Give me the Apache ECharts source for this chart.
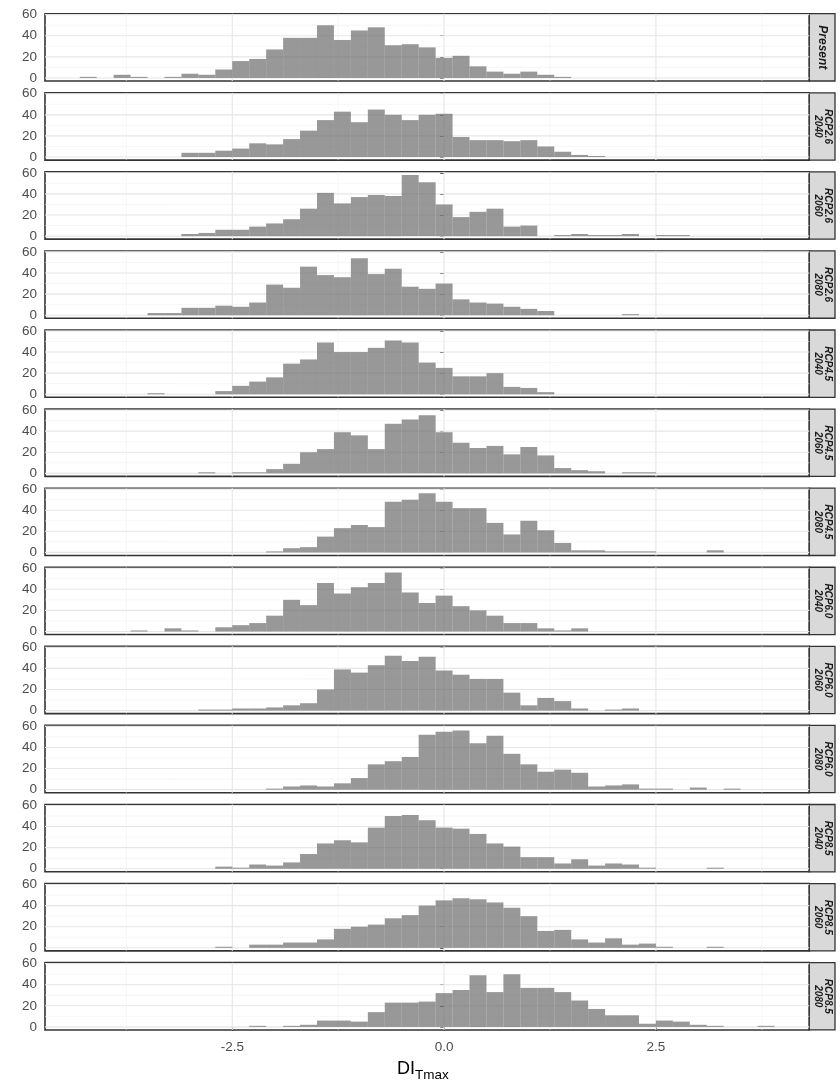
<!DOCTYPE html>
<html>
<head>
<meta charset="utf-8">
<script src="https://cdn.jsdelivr.net/npm/echarts@6/dist/echarts.min.js"></script>
<style>
html,body{margin:0;padding:0;background:#fff;}
#chart{width:840px;height:1081px;}
</style>
</head>
<body>
<div id="chart"></div>
<script>
// ---------- DATA ----------
const PANEL_LABELS = ['Present', 'RCP2.6\n2040', 'RCP2.6\n2060', 'RCP2.6\n2080',
  'RCP4.5\n2040', 'RCP4.5\n2060', 'RCP4.5\n2080',
  'RCP6.0\n2040', 'RCP6.0\n2060', 'RCP6.0\n2080',
  'RCP8.5\n2040', 'RCP8.5\n2060', 'RCP8.5\n2080'];

const BIN_WIDTH = 0.2;
const BIN_CENTERS = [-4.2, -4.0, -3.8, -3.6, -3.4, -3.2, -3.0, -2.8, -2.6, -2.4,
  -2.2, -2.0, -1.8, -1.6, -1.4, -1.2, -1.0, -0.8, -0.6, -0.4,
  -0.2, 0.0, 0.2, 0.4, 0.6, 0.8, 1.0, 1.2, 1.4, 1.6,
  1.8, 2.0, 2.2, 2.4, 2.6, 2.8, 3.0, 3.2, 3.4, 3.6, 3.8];

const present     = [1,0,3,1,0,1,4,3,8,16,18,27,38,38,50,36,45,48,31,32,29,19,21,11,6,4,6,3,1,0,0,0,0,0,0,0,0,0,0,0,0];
const rcp26_2040  = [0,0,0,0,0,0,4,4,6,8,13,12,17,25,35,43,33,45,40,35,40,41,19,16,16,15,16,10,5,2,1,0,0,0,0,0,0,0,0,0,0];
const rcp26_2060  = [0,0,0,0,0,0,2,3,6,6,9,12,16,26,41,31,37,39,38,58,51,30,18,23,26,9,10,0,1,2,1,1,2,0,1,1,0,0,0,0,0];
const rcp26_2080  = [0,0,0,0,2,2,7,7,9,8,12,29,26,46,38,36,54,39,44,27,25,30,15,12,11,8,6,4,0,0,0,0,1,0,0,0,0,0,0,0,0];
const rcp45_2040  = [0,0,0,0,1,0,0,0,3,8,12,16,29,33,49,40,40,44,51,49,30,25,17,17,20,7,6,2,0,0,0,0,0,0,0,0,0,0,0,0,0];
const rcp45_2060  = [0,0,0,0,0,0,0,1,0,1,1,4,9,20,23,39,36,23,47,51,55,39,29,24,26,18,25,17,5,3,2,0,1,1,0,0,0,0,0,0,0];
const rcp45_2080  = [0,0,0,0,0,0,0,0,0,0,0,1,4,5,15,23,26,24,48,50,56,48,42,42,28,17,30,21,9,2,2,1,1,1,0,0,0,2,0,0,0];
const rcp60_2040  = [0,0,0,1,0,3,1,0,4,6,8,15,30,25,46,36,42,46,56,37,27,34,24,20,15,8,8,3,1,3,0,0,0,0,0,0,0,0,0,0,0];
const rcp60_2060  = [0,0,0,0,0,0,0,1,1,2,2,3,5,7,20,39,36,43,52,47,51,38,34,30,30,17,5,12,9,2,0,1,2,0,0,0,0,0,0,0,0];
const rcp60_2080  = [0,0,0,0,0,0,0,0,0,0,0,1,3,4,3,6,11,24,27,31,52,55,56,44,51,34,24,17,19,16,3,4,5,1,1,0,2,0,1,0,0];
const rcp85_2040  = [0,0,0,0,0,0,0,0,2,1,4,3,6,14,24,27,25,39,50,51,46,39,38,33,24,21,11,11,5,9,3,5,4,1,0,0,0,1,0,0,0];
const rcp85_2060  = [0,0,0,0,0,0,0,0,1,0,3,3,5,5,8,18,20,22,28,31,40,45,47,46,43,38,30,16,17,8,5,9,3,4,1,0,0,1,0,0,0];
const rcp85_2080  = [0,0,0,0,0,0,0,0,0,0,1,0,1,2,6,6,5,14,23,23,24,32,35,49,33,50,37,37,33,25,17,11,11,3,6,5,2,1,0,0,1];

const PANEL_COUNTS = [present, rcp26_2040, rcp26_2060, rcp26_2080,
  rcp45_2040, rcp45_2060, rcp45_2080,
  rcp60_2040, rcp60_2060, rcp60_2080,
  rcp85_2040, rcp85_2060, rcp85_2080];

const X_TICKS = [-2.5, 0, 2.5];
const X_MINOR = [-3.75, -1.25, 1.25, 3.75];
const Y_TICKS = [0, 20, 40, 60];
const Y_MINOR = [10, 30, 50];
const X_RANGE = [-4.71, 4.31];
const Y_RANGE = [-2.9, 60.9];

// ---------- LAYOUT / STYLE ----------
const PANEL_TOP0 = 13.7, PANEL_STEP = 79.08, PANEL_H = 67.3;
const PANEL_L = 45, PANEL_W = 764.3, STRIP_W = 25.7;
const FONT = "'Liberation Sans', Arial, Helvetica, sans-serif";
const BAR_FILL = 'rgba(102,102,102,0.67)';
const N = PANEL_COUNTS.length;

const chart = echarts.init(document.getElementById('chart'), null, {renderer: 'canvas', width: 840, height: 1081});

function gridLineData() {
  const d = [];
  X_TICKS.forEach(v => d.push([v, 0, 0, 1]));
  X_MINOR.forEach(v => d.push([v, 0, 0, 0]));
  Y_TICKS.forEach(v => d.push([0, v, 1, 1]));
  Y_MINOR.forEach(v => d.push([0, v, 1, 0]));
  return d;
}

function renderGridLine(params, api) {
  const cs = params.coordSys;
  const p = api.coord([api.value(0), api.value(1)]);
  const horiz = api.value(2) === 1;
  const major = api.value(3) === 1;
  const shape = horiz
    ? {x1: cs.x, y1: p[1], x2: cs.x + cs.width, y2: p[1]}
    : {x1: p[0], y1: cs.y, x2: p[0], y2: cs.y + cs.height};
  return {
    type: 'line', shape: shape, silent: true,
    style: {stroke: major ? '#e6e6e6' : '#f0f0f0', lineWidth: major ? 1.1 : 0.6}
  };
}

function renderBar(params, api) {
  const c = api.value(0), n = api.value(1);
  if (!n) return null;
  const p0 = api.coord([c - BIN_WIDTH / 2, n]);
  const p1 = api.coord([c + BIN_WIDTH / 2, 0]);
  return {
    type: 'rect',
    shape: {x: p0[0], y: p0[1], width: p1[0] - p0[0], height: p1[1] - p0[1]},
    style: {fill: BAR_FILL}
  };
}

const grids = [], xAxes = [], yAxes = [], series = [], graphics = [];
for (let i = 0; i < N; i++) {
  const top = PANEL_TOP0 + PANEL_STEP * i;
  const last = i === N - 1;
  grids.push({
    left: PANEL_L, top: top, width: PANEL_W, height: PANEL_H,
    show: true, backgroundColor: '#ffffff', borderColor: '#333333', borderWidth: 1.6
  });
  xAxes.push({
    type: 'value', gridIndex: i, min: X_RANGE[0], max: X_RANGE[1],
    axisLine: {show: false}, splitLine: {show: false},
    axisTick: {show: last, customValues: X_TICKS, length: 4, lineStyle: {color: '#333333', width: 1}},
    axisLabel: {show: last, customValues: X_TICKS, margin: 10, color: '#4d4d4d', fontSize: 13.5, fontFamily: FONT,
      formatter: v => v.toFixed(1)}
  });
  yAxes.push({
    type: 'value', gridIndex: i, min: Y_RANGE[0], max: Y_RANGE[1],
    axisLine: {show: false}, splitLine: {show: false},
    axisTick: {show: true, customValues: Y_TICKS, length: 4, lineStyle: {color: '#333333', width: 1}},
    axisLabel: {show: true, customValues: Y_TICKS, margin: 8, color: '#4d4d4d', fontSize: 13.5, fontFamily: FONT,
      formatter: v => String(Math.round(v))}
  });
  series.push({
    type: 'custom', xAxisIndex: i, yAxisIndex: i, z: 1, silent: true,
    renderItem: renderGridLine, data: gridLineData()
  });
  series.push({
    type: 'custom', xAxisIndex: i, yAxisIndex: i, z: 2,
    renderItem: renderBar,
    data: BIN_CENTERS.map((c, k) => [c, PANEL_COUNTS[i][k]])
  });
  // facet strip
  graphics.push({
    type: 'rect', silent: true,
    shape: {x: PANEL_L + PANEL_W, y: top, width: STRIP_W, height: PANEL_H},
    style: {fill: '#d9d9d9', stroke: '#333333', lineWidth: 1.3}
  });
  const single = PANEL_LABELS[i].indexOf('\n') < 0;
  graphics.push({
    type: 'text', silent: true,
    x: PANEL_L + PANEL_W + STRIP_W / 2 + 0.5, y: top + PANEL_H / 2,
    rotation: -Math.PI / 2,
    style: {
      text: PANEL_LABELS[i], align: 'center', verticalAlign: 'middle',
      fontFamily: FONT, fontWeight: 'bold', fontStyle: 'italic',
      fontSize: single ? 12 : 10, lineHeight: single ? 13 : 10.5, fill: '#1a1a1a'
    }
  });
}

// axis title DI with subscript Tmax
graphics.push({
  type: 'text', silent: true, x: 397, y: 1069,
  style: {text: 'DI', align: 'left', verticalAlign: 'middle', fontFamily: FONT, fontSize: 18, fill: '#000000'}
});
graphics.push({
  type: 'text', silent: true, x: 415, y: 1075,
  style: {text: 'Tmax', align: 'left', verticalAlign: 'middle', fontFamily: FONT, fontSize: 13.5, fill: '#000000'}
});

chart.setOption({
  animation: false,
  backgroundColor: '#ffffff',
  grid: grids,
  xAxis: xAxes,
  yAxis: yAxes,
  series: series,
  graphic: graphics
});
</script>
</body>
</html>
